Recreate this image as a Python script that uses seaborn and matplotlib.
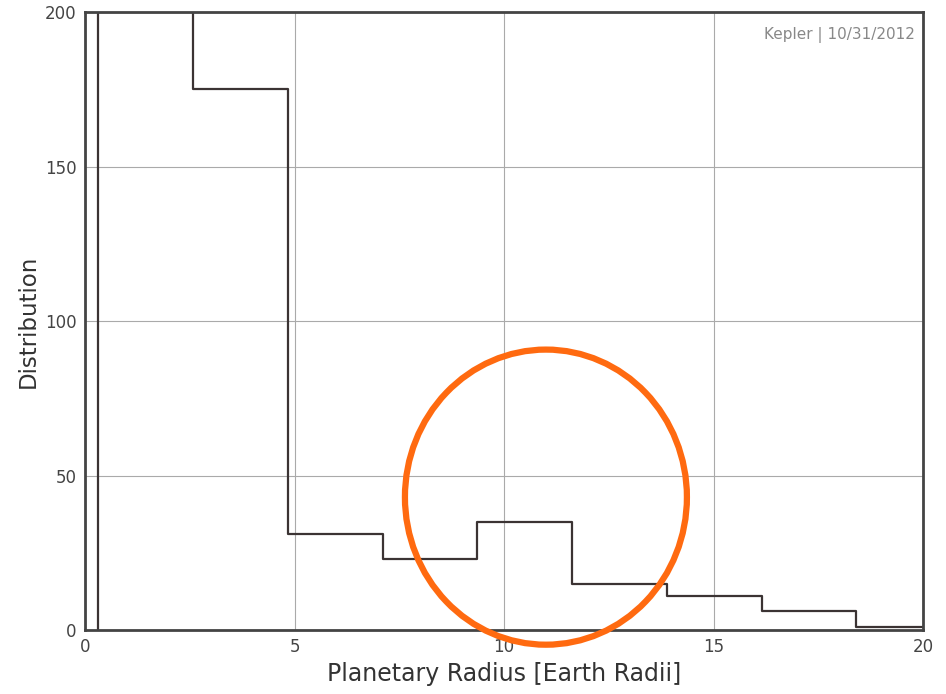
import matplotlib
matplotlib.use("Agg")
import matplotlib.pyplot as plt
from matplotlib.patches import Ellipse
import seaborn as sns
import numpy as np

# Data
bin_edges = [0.31, 2.58, 4.85, 7.10, 9.35, 11.62, 13.89, 16.15, 18.40, 20.67]
counts = [400, 175, 31, 23, 35, 15, 11, 6, 1]
x_ticks = [0, 5, 10, 15, 20]
y_ticks = [0, 50, 100, 150, 200]
bin_centers = [(a + b) / 2 for a, b in zip(bin_edges[:-1], bin_edges[1:])]

sns.set_style("white")
plt.rcParams['font.family'] = ['DejaVu Sans']

fig = plt.figure(figsize=(9.46, 6.94), dpi=100)
ax = fig.add_axes([0.0899, 0.0922, 0.8858, 0.8905])

line_color = "#3b3333"
sns.histplot(x=bin_centers, weights=counts, bins=bin_edges, element="step",
             fill=False, color=line_color, linewidth=1.6, ax=ax)
# left edge of the first bin
ax.vlines(bin_edges[0], 0, counts[0], color=line_color, linewidth=1.6)

ax.set_xlim(0, 20)
ax.set_ylim(0, 200)
ax.set_xticks(x_ticks)
ax.set_yticks(y_ticks)
ax.grid(True, color="#aaaaaa", linewidth=0.8)
ax.set_axisbelow(True)
for s in ax.spines.values():
    s.set_color("#444444")
    s.set_linewidth(2.0)
ax.tick_params(axis="both", direction="in", length=5, color="#555555",
               labelsize=12, labelcolor="#444444", pad=6)
ax.set_xlabel("Planetary Radius [Earth Radii]", fontsize=17, color="#333333")
ax.set_ylabel("Distribution", fontsize=16.5, color="#333333")

ax.text(0.99, 0.975, "Kepler | 10/31/2012", transform=ax.transAxes,
        ha="right", va="top", fontsize=11, color="#888888")

ell = Ellipse((11.0, 43.0), width=6.73, height=95.5, fill=False,
              edgecolor="#ff6a10", linewidth=4.5, clip_on=False, zorder=5)
ax.add_patch(ell)

fig.savefig("out.png", dpi=100)
